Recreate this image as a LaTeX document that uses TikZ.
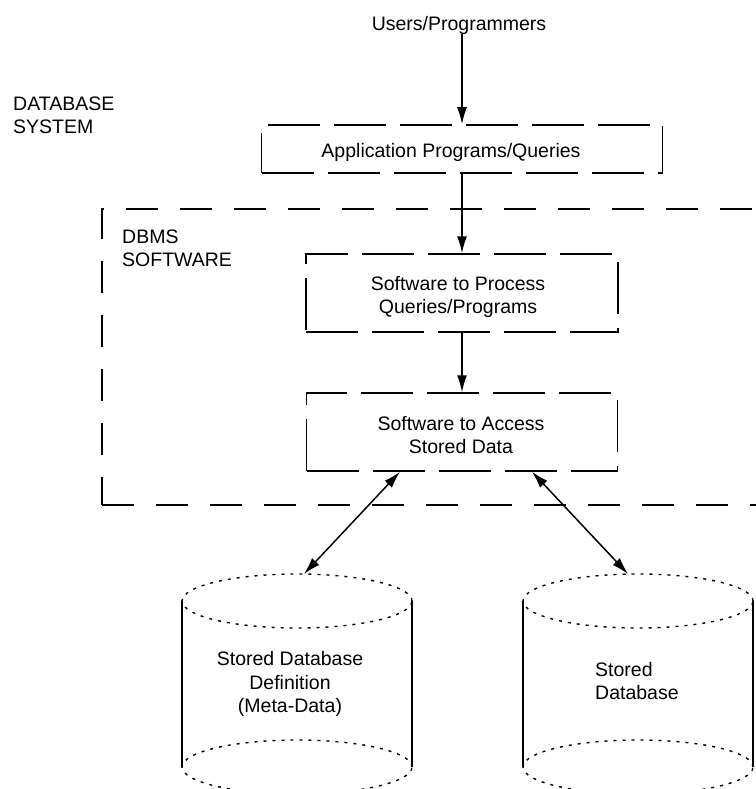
\documentclass[tikz,border=0pt]{standalone}
\usepackage{fontspec}
\setmainfont{Liberation Sans}
\usetikzlibrary{arrows.meta}
\begin{document}
\begin{tikzpicture}[x=1pt,y=-1pt,
  lbl/.style={font=\fontsize{19.5}{23.5}\selectfont, inner sep=0pt},
  boxline/.style={draw, line width=1.5pt, dash pattern=on 52pt off 14pt, inner sep=0pt},
  dbmsline/.style={draw, line width=1.5pt, dash pattern=on 32pt off 22pt, inner sep=0pt},
  arr/.style={line width=1.5pt, -{Latex[length=17pt,width=10pt]}},
  arrboth/.style={line width=1.5pt, {Latex[length=17pt,width=10pt]}-{Latex[length=17pt,width=10pt]}},
  cylside/.style={line width=1.5pt},
  cyldot/.style={line width=1.4pt, dash pattern=on 3pt off 6pt}]
\useasboundingbox (0,0) rectangle (755,789);

% labels
\node[lbl] (users) at (459,25) {Users/Programmers};
\node[lbl, align=left, anchor=west] (dbsys) at (13,115.5) {DATABASE\\SYSTEM};

% application box
\node[boxline, minimum width=401pt, minimum height=48pt] (app) at (462,149) {};
\node[lbl] (apptxt) at (451,152) {Application Programs/Queries};

% DBMS software box (extends past right edge)
\node[dbmsline, minimum width=690pt, minimum height=296pt] (dbms) at (447,357) {};
\node[lbl, align=left, anchor=west] (dbmslbl) at (122,248.5) {DBMS\\SOFTWARE};

% process box
\node[boxline, minimum width=312pt, minimum height=78pt] (proc) at (462,293) {};
\node[lbl, align=center] (proctxt) at (458,297) {Software to Process\\Queries/Programs};

% access box
\node[boxline, minimum width=311pt, minimum height=78pt] (acc) at (462,432) {};
\node[lbl, align=center] (acctxt) at (461,435) {Software to Access\\Stored Data};

% cylinders
\draw[cyldot] (297,601) ellipse [x radius=115pt, y radius=27pt];
\draw[cyldot] (297,767) ellipse [x radius=115pt, y radius=27pt];
\draw[cylside] (182,601) -- (182,767);
\draw[cylside] (412,601) -- (412,767);
\node[lbl, align=center] (metatxt) at (290,684) {Stored Database\\Definition\\(Meta-Data)};

\draw[cyldot] (638,601) ellipse [x radius=115pt, y radius=27pt];
\draw[cyldot] (638,767) ellipse [x radius=115pt, y radius=27pt];
\draw[cylside] (523,601) -- (523,767);
\draw[cylside] (753,601) -- (753,767);
\node[lbl, align=left, anchor=west] (datatxt) at (595,681) {Stored\\Database};

\coordinate (metatop) at (304,574);
\coordinate (datatop) at (628,574);
\coordinate (accL) at ([xshift=-62pt]acc.south);
\coordinate (accR) at ([xshift=70pt]acc.south);

% connectors
\draw[arr] (users.south -| app.north) -- (app.north);
\draw[arr] (app.south) -- (proc.north);
\draw[arr] (proc.south) -- (acc.north);
\draw[arrboth] (accL) -- (metatop);
\draw[arrboth] (accR) -- (datatop);
\end{tikzpicture}
\end{document}
